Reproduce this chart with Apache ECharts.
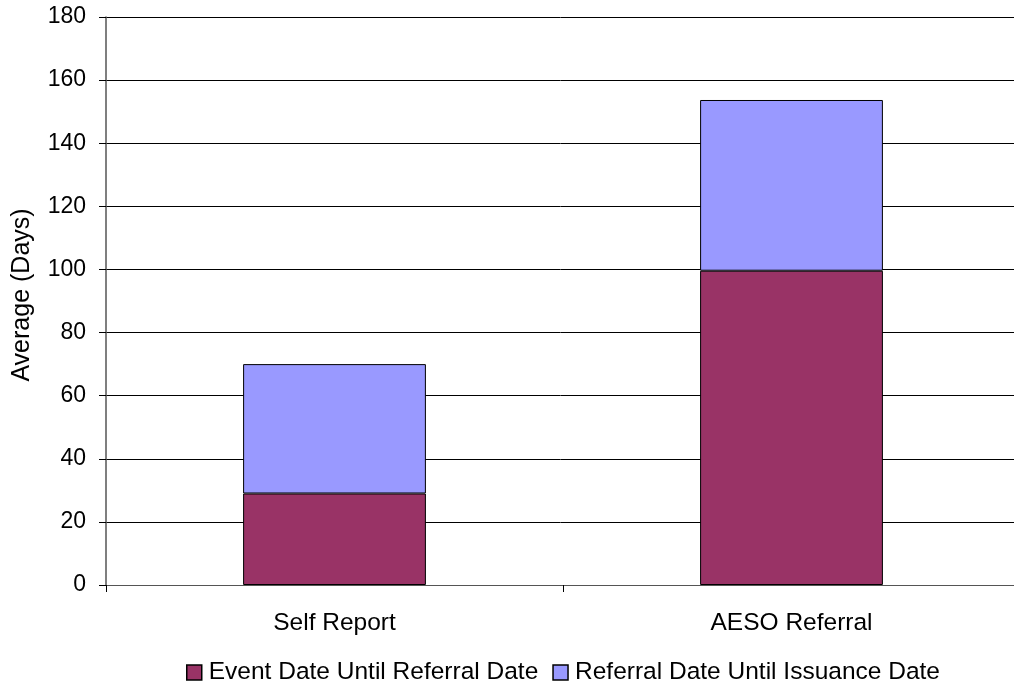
<!DOCTYPE html>
<html>
<head>
<meta charset="utf-8">
<script src="https://cdn.jsdelivr.net/npm/echarts@6/dist/echarts.min.js"></script>
<style>
  html, body { margin: 0; padding: 0; background: #fff; }
  #chart { width: 1014px; height: 684px; }
</style>
</head>
<body>
<div id="chart"></div>
<script>
// categories and series values (days)
var categories = ['Self Report', 'AESO Referral'];
var eventToReferral = [29, 99.6];
var referralToIssuance = [41, 54.1];
var seriesNames = ['Event Date Until Referral Date', 'Referral Date Until Issuance Date'];

var myChart = echarts.init(document.getElementById('chart'));

var font = 'Arial, "Liberation Sans", sans-serif';

var option = {
    animation: false,
    textStyle: { fontFamily: font },
    grid: {
        left: 106,
        width: 914,
        top: 17,
        bottom: 99,
        outerBoundsMode: 'none'
    },
    legend: {
        top: 655,
        left: 181,
        itemWidth: 15,
        itemHeight: 15,
        itemGap: 14,
        textStyle: { fontSize: 24.5, color: '#000', fontFamily: font, padding: [0, 0, 0, 2] },
        data: seriesNames.map(function (n) {
            return { name: n, icon: 'rect', itemStyle: { borderColor: '#000', borderWidth: 1.5 } };
        })
    },
    xAxis: {
        type: 'category',
        data: categories,
        axisLine: { lineStyle: { color: '#555', width: 1 } },
        axisTick: { show: true, length: 7, lineStyle: { color: '#000' } },
        axisLabel: { fontSize: 24.5, color: '#000', margin: 26, fontFamily: font },
        splitLine: { show: false }
    },
    yAxis: {
        type: 'value',
        min: 0,
        max: 180,
        interval: 20,
        name: 'Average (Days)',
        nameLocation: 'middle',
        nameGap: 71,
        nameTextStyle: { fontSize: 25, color: '#000', fontFamily: font, padding: [0, 0, 0, 12] },
        axisLine: { show: true, lineStyle: { color: '#555', width: 1.5 } },
        axisTick: { show: true, length: 7, lineStyle: { color: '#000' } },
        axisLabel: { fontSize: 23, color: '#000', margin: 20, fontFamily: font },
        splitLine: { show: true, lineStyle: { color: '#000', width: 1 } }
    },
    series: [{
        name: seriesNames[0],
        type: 'bar',
        stack: 'total',
        barWidth: '40%',
        data: eventToReferral,
        itemStyle: { color: '#993366', borderColor: '#000', borderWidth: 1 }
    }, {
        name: seriesNames[1],
        type: 'bar',
        stack: 'total',
        data: referralToIssuance,
        itemStyle: { color: '#9999FF', borderColor: '#000', borderWidth: 1 }
    }]
};
myChart.setOption(option);
</script>
</body>
</html>
